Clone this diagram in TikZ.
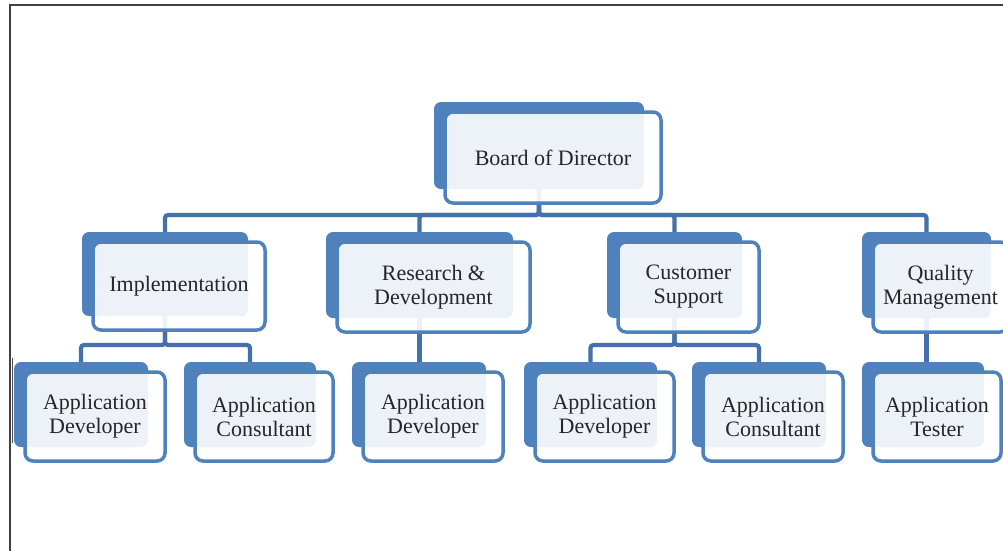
\documentclass[tikz,border=0pt]{standalone}
\usepackage{fontspec}
\setmainfont{Liberation Serif}
\usetikzlibrary{calc}
\definecolor{boxblue}{RGB}{79,129,189}
\definecolor{linkblue}{RGB}{68,113,172}
\pgfdeclarelayer{bg}
\pgfsetlayers{bg,main}
\tikzset{
 backbox/.style={fill=boxblue, rounded corners=7pt, inner sep=0pt, outer sep=0pt, anchor=north west},
 frontbox/.style={draw=boxblue, line width=3.5pt, fill=white, fill opacity=0.9, text opacity=1, rounded corners=8pt, inner sep=0pt, outer sep=0pt, align=center, font=\fontsize{22}{24}\selectfont, text=black!85},
 conn/.style={draw=linkblue, line width=4.2pt, rounded corners=3pt},
 frameline/.style={draw=black!75, line width=2pt}
}
\newcommand\orgbox[6]{%
  \node[backbox, minimum width={(#4-#2-6)*1pt}, minimum height={(#5-#3-4)*1pt}] (#1b) at ({#2-11},{#3-10}) {};
  \node[frontbox, minimum width={(#4-#2)*1pt}, minimum height={(#5-#3)*1pt}] (#1) at ({(#2+#4)/2},{(#3+#5)/2}) {#6};
}
\begin{document}
\begin{tikzpicture}[x=1pt,y=-1pt]
\useasboundingbox (0,0) rectangle (1003,550);
\clip (0,0) rectangle (1003,550);
\begin{pgfonlayer}{bg}
\fill[white] (0,0) rectangle (1003,550);
\end{pgfonlayer}
\draw[frameline] (10,551) -- (10,5) -- (1004,5);
\draw[black!70, line width=1pt] (12,358) -- (12,443);
\orgbox{board}{445}{112}{661}{203}{Board of Director}
\orgbox{impl}{93}{242}{265}{330}{Implementation}
\orgbox{rd}{337}{242}{530}{332}{Research \&\\Development}
\orgbox{cs}{618}{242}{759}{332}{Customer\\Support}
\orgbox{qm}{873}{242}{1008}{332}{Quality\\Management}
\orgbox{adA}{25}{372}{165}{461}{Application\\Developer}
\orgbox{acA}{195}{372}{333}{461}{Application\\Consultant}
\orgbox{adB}{363}{372}{503}{461}{Application\\Developer}
\orgbox{adC}{535}{372}{674}{461}{Application\\Developer}
\orgbox{acC}{703}{372}{843}{461}{Application\\Consultant}
\orgbox{at}{873}{372}{1001}{461}{Application\\Tester}
\begin{pgfonlayer}{bg}
\coordinate (busA) at (0,215);
\coordinate (busB) at (0,345);
\draw[conn] (boardb.south) -- (boardb.south |- busA) -| (implb.north);
\draw[conn] (boardb.south) -- (boardb.south |- busA) -| (rdb.north);
\draw[conn] (boardb.south) -- (boardb.south |- busA) -| (csb.north);
\draw[conn] (boardb.south) -- (boardb.south |- busA) -| (qmb.north);
\draw[conn] (implb.south) -- (implb.south |- busB) -| (adAb.north);
\draw[conn] (implb.south) -- (implb.south |- busB) -| (acAb.north);
\draw[conn] (rdb.south) -- (rdb.south |- adBb.north);
\draw[conn] (csb.south) -- (csb.south |- busB) -| (adCb.north);
\draw[conn] (csb.south) -- (csb.south |- busB) -| (acCb.north);
\draw[conn] (qmb.south) -- (qmb.south |- atb.north);
\end{pgfonlayer}
\end{tikzpicture}
\end{document}
